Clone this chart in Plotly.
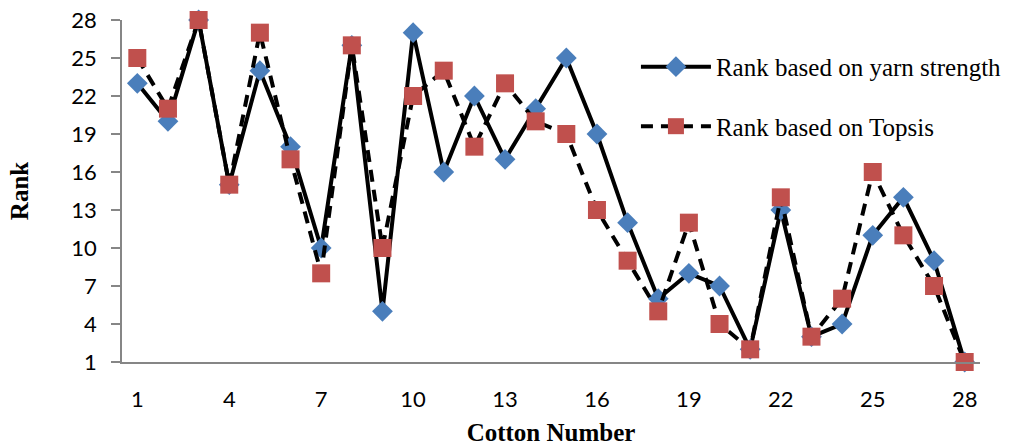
import plotly.graph_objects as go

cotton = list(range(1, 29))
rank_strength = [23, 20, 28, 15, 24, 18, 10, 26, 5, 27, 16, 22, 17, 21, 25, 19, 12, 6, 8, 7, 2, 13, 3, 4, 11, 14, 9, 1]
rank_topsis = [25, 21, 28, 15, 27, 17, 8, 26, 10, 22, 24, 18, 23, 20, 19, 13, 9, 5, 12, 4, 2, 14, 3, 6, 16, 11, 7, 1]
x_ticks = [1, 4, 7, 10, 13, 16, 19, 22, 25, 28]
y_ticks = [1, 4, 7, 10, 13, 16, 19, 22, 25, 28]

fig = go.Figure()
fig.add_trace(go.Scatter(
    x=cotton, y=rank_strength, mode="lines+markers",
    name="Rank based on yarn strength", legendgroup="a",
    line=dict(color="black", width=4),
    marker=dict(symbol="diamond", size=16, color="#4a7ebb", line=dict(width=0)),
    cliponaxis=False,
))
fig.add_trace(go.Scatter(
    x=cotton, y=rank_topsis, mode="lines+markers",
    name="Rank based on Topsis", legendgroup="b",
    line=dict(color="black", width=4, dash="12px,8px"),
    marker=dict(symbol="square", size=18, color="#c0504d", line=dict(width=0)),
    cliponaxis=False,
))

tickfont = dict(family="Lato, Carlito, Liberation Sans, sans-serif", size=22, color="black")
titlefont = dict(family="Liberation Serif, Times New Roman, serif", size=25, color="black", weight="bold")

fig.update_layout(
    width=1022, height=446,
    margin=dict(l=122, r=42, t=20, b=84, autoexpand=False),
    paper_bgcolor="white", plot_bgcolor="white",
    showlegend=True,
    legend=dict(
        x=0.599, y=0.93, xanchor="left", yanchor="top",
        font=dict(family="Liberation Serif, Times New Roman, serif", size=25, color="black"),
        itemwidth=70, tracegroupgap=24, bgcolor="rgba(0,0,0,0)",
    ),
    xaxis=dict(
        range=[0.5, 28.5], tickvals=x_ticks, ticks="", showgrid=False, zeroline=False,
        showline=True, linecolor="#868686", linewidth=1.5, tickfont=tickfont,
        ticklabelstandoff=17, automargin=False,
        title=dict(text="Cotton Number", font=titlefont, standoff=20),
    ),
    yaxis=dict(
        range=[1, 28], tickvals=y_ticks, ticks="outside", ticklen=9, tickcolor="#868686",
        tickwidth=1.5, showgrid=False, zeroline=False,
        showline=True, linecolor="#868686", linewidth=1.5, tickfont=tickfont,
        ticklabelstandoff=10, automargin=False,
        title=dict(text="Rank", font=titlefont, standoff=36),
    ),
)

fig.write_html("out.html")
